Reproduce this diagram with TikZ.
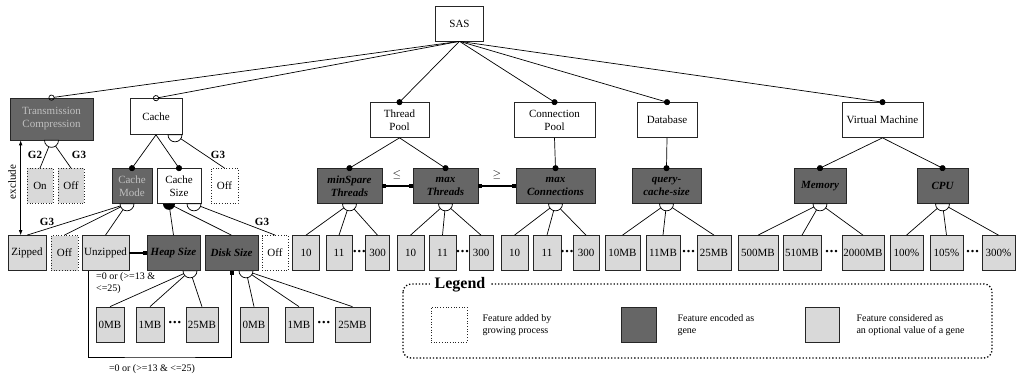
\documentclass[tikz,border=0pt]{standalone}
\usepackage{fontspec}
\setmainfont{Liberation Serif}
\usetikzlibrary{arrows.meta}
\definecolor{genegray}{RGB}{102,102,102}
\definecolor{valgray}{RGB}{217,217,217}
\newcommand{\valdots}{\fontsize{15}{15}\selectfont\textbf{\textperiodcentered\kern-.5pt\textperiodcentered\kern-.5pt\textperiodcentered}}
\begin{document}
\begin{tikzpicture}[x={(1pt,0pt)}, y={(0pt,-1pt)},
  font=\fontsize{11}{13}\selectfont]
\tikzstyle{feat}=[draw=black!85, line width=.7pt, inner sep=1pt,
  align=center, minimum height=35pt]
\tikzstyle{whitebox}=[feat, fill=white]
\tikzstyle{gene}=[feat, fill=genegray,
  font=\fontsize{11}{13}\selectfont\bfseries\itshape]
\tikzstyle{genelight}=[feat, fill=genegray, text=black!25]
\tikzstyle{val}=[feat, fill=valgray]
\tikzstyle{grown}=[feat, dotted, line width=.9pt]
\tikzstyle{link}=[line width=.7pt]
\tikzstyle{mand}=[link, -{Circle[length=6pt]}, shorten >=-3pt]
\tikzstyle{opt}=[link, -{Circle[open,length=6pt]}, shorten >=-3pt]
\tikzstyle{grp}=[link, fill=white]
\tikzstyle{cons}=[line width=1.4pt]
\tikzstyle{ellip}=[inner sep=0pt]
\tikzstyle{lbl}=[font=\fontsize{11}{13}\selectfont\bfseries, inner sep=0pt]
\useasboundingbox (0,0) rectangle (1018,377);

% root
\node[whitebox, minimum width=48pt] (sas) at (459.5,23.5) {SAS};

% first level
\node[genelight, minimum width=83pt, minimum height=42pt] (tc) at (51.5,119)
  {Transmission\\Compression};
\node[whitebox, minimum width=52pt, minimum height=36pt] (cache) at (156,116.5) {Cache};
\node[whitebox, minimum width=59pt] (tpool) at (399.5,120) {Thread\\Pool};
\node[whitebox, minimum width=81pt] (cpool) at (554.5,120) {Connection\\Pool};
\node[whitebox, minimum width=60pt] (db) at (667,120) {Database};
\node[whitebox, minimum width=81pt] (vm) at (882.5,120) {Virtual Machine};

\draw[opt] (sas.south) -- (tc.north);
\draw[opt] (sas.south) -- (cache.north);
\draw[mand] (sas.south) -- (tpool.north);
\draw[mand] (sas.south) -- (cpool.north);
\draw[mand] (sas.south) -- (db.north);
\draw[mand] (sas.south) -- (vm.north);

% second level
\node[grown, fill=valgray, minimum width=26pt] (tcon) at (40,186) {On};
\node[grown, fill=valgray, minimum width=26pt] (tcoff) at (71,186) {Off};
\node[genelight, minimum width=40pt] (cmode) at (132,186) {Cache\\Mode};
\node[whitebox, minimum width=44pt] (csize) at (179,186) {Cache\\Size};
\node[grown, fill=white, minimum width=27pt] (coff) at (224.5,186) {Off};
\node[gene, minimum width=65pt] (minspare) at (349.5,186) {minSpare\\Threads};
\node[gene, minimum width=65pt] (maxthr) at (445.5,186) {max\\Threads};
\node[gene, minimum width=79pt] (maxconn) at (555.5,186) {max\\Connections};
\node[gene, minimum width=69pt] (qcs) at (666.5,186) {query-\\cache-size};
\node[gene, minimum width=52pt] (mem) at (820,186) {Memory};
\node[gene, minimum width=51pt] (cpu) at (942.5,186) {CPU};

\draw[link] (tc.south) -- (tcon.north) (tc.south) -- (tcoff.north);
\draw[grp] (tc.south) ++(-7pt,0) arc[start angle=180, end angle=360, radius=7pt] -- cycle;
\node[lbl] (g2a) at (35,155) {G2};
\node[lbl] (g3a) at (79,155) {G3};

\draw[mand] (cache.south) -- (cmode.north);
\draw[mand] (cache.south) -- (csize.north);
\coordinate (cacheoff) at ([xshift=19pt]cache.south);
\draw[link] (cacheoff) -- (coff.north);
\draw[grp] (cacheoff) ++(-7pt,0) arc[start angle=180, end angle=360, radius=7pt] -- cycle;
\node[lbl] (g3b) at (218,155) {G3};

\draw[mand] (tpool.south) -- (minspare.north);
\draw[mand] (tpool.south) -- (maxthr.north);
\draw[mand] (cpool.south) -- (maxconn.north);
\draw[mand] (db.south) -- (qcs.north);
\draw[mand] (vm.south) -- (mem.north);
\draw[mand] (vm.south) -- (cpu.north);

% relations between genes
\draw[cons, {Square[length=4pt,width=4pt]}-{Square[length=4pt,width=4pt]}]
  (minspare.east) -- (maxthr.west);
\draw[cons, {Square[length=4pt,width=4pt]}-{Square[length=4pt,width=4pt]}]
  (maxthr.east) -- (maxconn.west);
\node (le) at (397,175) {$\leq$};
\node (ge) at (497,175) {$\geq$};

% third level
\node[val, minimum width=38pt] (zipped) at (27,253) {Zipped};
\node[grown, fill=valgray, minimum width=27pt] (cmoff) at (64.5,253) {Off};
\node[val, minimum width=47pt] (unzipped) at (105.5,253) {Unzipped};
\node[gene, minimum width=53pt] (heap) at (173.5,253) {Heap Size};
\node[gene, minimum width=53pt] (disk) at (231.5,253) {Disk Size};
\node[grown, fill=white, minimum width=26pt] (csoff) at (275,253) {Off};

\node[val, minimum width=27pt] (ta) at (306,253) {10};
\node[val, minimum width=26pt] (tb) at (339,253) {11};
\node[ellip] (tdots) at (359.5,253) {\valdots};
\node[val, minimum width=24pt] (tcc) at (377.5,253) {300};

\node[val, minimum width=27pt] (ma) at (410.5,253) {10};
\node[val, minimum width=27pt] (mb) at (442.5,253) {11};
\node[ellip] (mdots) at (462.5,253) {\valdots};
\node[val, minimum width=24pt] (mc) at (481,253) {300};

\node[val, minimum width=27pt] (ca) at (514.5,253) {10};
\node[val, minimum width=28pt] (cb) at (547,253) {11};
\node[ellip] (cdots) at (567,253) {\valdots};
\node[val, minimum width=26pt] (cc) at (586,253) {300};

\node[val, minimum width=35pt] (qa) at (622.5,253) {10MB};
\node[val, minimum width=34pt] (qb) at (663,253) {11MB};
\node[ellip] (qdots) at (688.5,253) {\valdots};
\node[val, minimum width=34pt] (qc) at (714,253) {25MB};

\node[val, minimum width=40pt] (mema) at (758,253) {500MB};
\node[val, minimum width=38pt] (memb) at (802,253) {510MB};
\node[ellip] (memdots) at (831.5,253) {\valdots};
\node[val, minimum width=42pt] (memc) at (863,253) {2000MB};

\node[val, minimum width=33pt] (pa) at (906.5,253) {100\%};
\node[val, minimum width=33pt] (pb) at (946.5,253) {105\%};
\node[ellip] (pdots) at (972.5,253) {\valdots};
\node[val, minimum width=33pt] (pc) at (998.5,253) {300\%};

% cache mode group
\coordinate (cmodegrp) at ([xshift=-5pt]cmode.south);
\draw[link] (cmodegrp) -- (zipped.north) (cmodegrp) -- (cmoff.north)
  (cmodegrp) -- (unzipped.north);
\draw[grp] (cmodegrp) ++(-7pt,0) arc[start angle=180, end angle=360, radius=7pt] -- cycle;
\node[lbl] (g3c) at (47,222) {G3};

% cache size group
\coordinate (csizeor) at ([xshift=-10pt]csize.south);
\draw[link] (csizeor) -- (heap.north) (csizeor) -- (disk.north);
\fill (csizeor) ++(-6pt,0) arc[start angle=180, end angle=360, radius=6pt] -- cycle;
\coordinate (csizeoff) at ([xshift=15pt]csize.south);
\draw[link] (csizeoff) -- (csoff.north);
\draw[grp] (csizeoff) ++(-7pt,0) arc[start angle=180, end angle=360, radius=7pt] -- cycle;
\node[lbl] (g3d) at (262,222) {G3};

% gene values
\foreach \g/\a/\b/\c in {minspare/ta/tb/tcc, maxthr/ma/mb/mc, maxconn/ca/cb/cc,
    qcs/qa/qb/qc, mem/mema/memb/memc, cpu/pa/pb/pc} {
  \draw[link] (\g.south) -- (\a.north) (\g.south) -- (\b.north)
    (\g.south) -- (\c.north);
  \draw[grp] (\g.south) ++(-7pt,0) arc[start angle=180, end angle=360, radius=7pt] -- cycle;
}

% fourth level
\node[val, minimum width=28pt] (ha) at (110,324.5) {0MB};
\node[val, minimum width=28pt] (hb) at (150,324.5) {1MB};
\node[ellip] (hdots) at (175,324.5) {\valdots};
\node[val, minimum width=32pt] (hc) at (202,324.5) {25MB};
\node[val, minimum width=28pt] (da) at (254,324.5) {0MB};
\node[val, minimum width=28pt] (dbb) at (299,324.5) {1MB};
\node[ellip] (ddots) at (324,324.5) {\valdots};
\node[val, minimum width=35pt] (dc) at (352.5,324.5) {25MB};

\coordinate (heapgrp) at ([xshift=16.5pt]heap.south);
\draw[link] (heapgrp) -- (ha.north) (heapgrp) -- (hb.north) (heapgrp) -- (hc.north);
\draw[grp] (heapgrp) ++(-7pt,0) arc[start angle=180, end angle=360, radius=7pt] -- cycle;
\coordinate (diskgrp) at ([xshift=14.5pt]disk.south);
\draw[link] (diskgrp) -- (da.north) (diskgrp) -- (dbb.north) (diskgrp) -- (dc.north);
\draw[grp] (diskgrp) ++(-7pt,0) arc[start angle=180, end angle=360, radius=7pt] -- cycle;

% constraints
\draw[cons, -{Square[length=4pt,width=4pt]}] (unzipped.east) -- (heap.west);
\coordinate (detour) at (160,357);
\draw[link, line width=1pt, -{Square[length=4pt,width=4pt]}]
  ([xshift=-17.5pt]unzipped.south) |- (detour) -| (disk.south);
\node[anchor=north west, align=left, inner sep=0pt,
  font=\fontsize{10}{12}\selectfont] (conda) at (96,272) {=0 or (>=13 \&\\<=25)};
\node[inner sep=0pt, font=\fontsize{10}{12}\selectfont] (condb) at (152,369)
  {=0 or (>=13 \& <=25)};

% exclude
\draw[link, {Latex[length=5pt]}-{Latex[length=5pt]}]
  ([xshift=11pt]tc.south west) -- ([xshift=11pt]tc.south west |- zipped.north);
\node[rotate=90, inner sep=0pt] (excl) at (12,182) {exclude};

% legend
\draw[line width=1.3pt, dotted, rounded corners=8pt] (403,284) rectangle (992,358);
\node[fill=white, inner xsep=5pt, inner ysep=0pt,
  font=\fontsize{16}{18}\selectfont\bfseries] (legtitle) at (460,285) {Legend};
\node[grown, fill=white, minimum width=36pt] (leggrown) at (449,324.5) {};
\node[anchor=west, align=left, font=\fontsize{10}{12}\selectfont] (leggrowntxt)
  at (479,325) {Feature added by\\growing process};
\node[gene, minimum width=35pt] (leggene) at (638.5,324.5) {};
\node[anchor=west, align=left, font=\fontsize{10}{12}\selectfont] (leggenetxt)
  at (674,325) {Feature encoded as\\gene};
\node[val, minimum width=34pt] (legval) at (822,324.5) {};
\node[anchor=west, align=left, font=\fontsize{10}{12}\selectfont] (legvaltxt)
  at (853,325) {Feature considered as\\an optional value of a gene};
\end{tikzpicture}
\end{document}
